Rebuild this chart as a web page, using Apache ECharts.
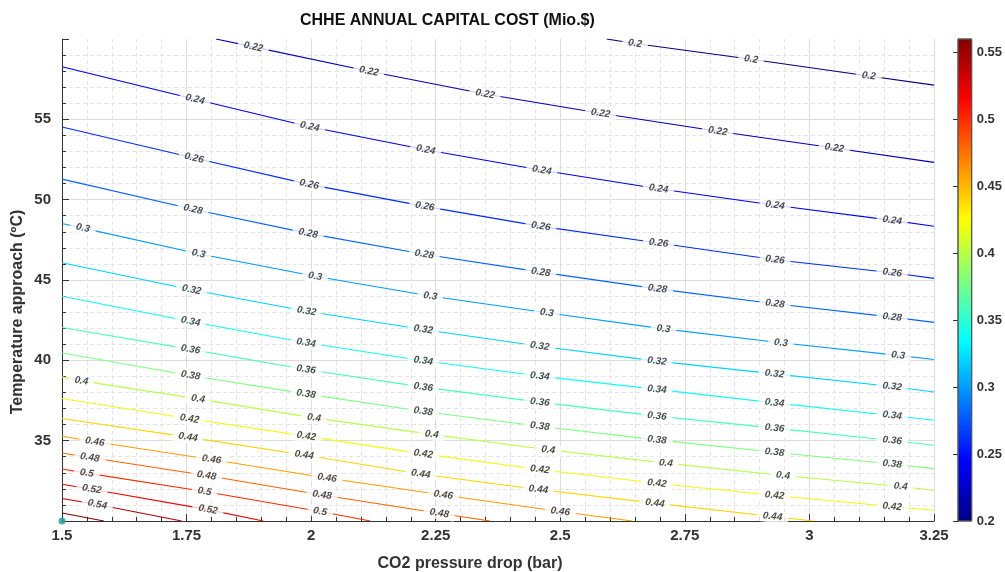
<!DOCTYPE html>
<html>
<head>
<meta charset="utf-8">
<script src="https://cdn.jsdelivr.net/npm/echarts@6/dist/echarts.min.js"></script>
<style>
  html, body { margin: 0; padding: 0; background: #fff; }
  #chart { width: 1005px; height: 572px; }
</style>
</head>
<body>
<div id="chart"></div>
<script>
// contour levels (Mio.$) and colour range of the colorbar
const levels = [0.2, 0.22, 0.24, 0.26, 0.28, 0.3, 0.32, 0.34, 0.36, 0.38, 0.4, 0.42, 0.44, 0.46, 0.48, 0.5, 0.52, 0.54, 0.56];
const cbarMin = 0.2;
const cbarMax = 0.56;

// each contour: [CO2 pressure drop (bar), temperature approach (C)]
// first/last point = where the line leaves the plot, inner points carry a label
const line020 = [[2.593, 60], [2.65, 59.72], [2.883, 58.74], [3.119, 57.70], [3.25, 57.13]];
const line022 = [[1.809, 60], [1.884, 59.51], [2.116, 57.99], [2.349, 56.58], [2.581, 55.38], [2.816, 54.26], [3.050, 53.22], [3.25, 52.32]];
const line024 = [[1.5, 58.27], [1.767, 56.25], [1.997, 54.54], [2.230, 53.11], [2.463, 51.83], [2.697, 50.68], [2.931, 49.65], [3.166, 48.71], [3.25, 48.35]];
const line026 = [[1.5, 54.52], [1.765, 52.59], [1.996, 50.95], [2.228, 49.58], [2.461, 48.34], [2.697, 47.30], [2.931, 46.26], [3.166, 45.45], [3.25, 45.10]];
const line028 = [[1.5, 51.28], [1.763, 49.40], [1.994, 47.90], [2.227, 46.60], [2.461, 45.49], [2.695, 44.45], [2.931, 43.52], [3.166, 42.69], [3.25, 42.36]];
const line030 = [[1.5, 48.52], [1.542, 48.23], [1.774, 46.63], [2.008, 45.23], [2.239, 44.00], [2.473, 42.96], [2.707, 41.96], [2.943, 41.09], [3.178, 40.31], [3.25, 40.05]];
const line032 = [[1.5, 46.07], [1.760, 44.39], [1.991, 43.06], [2.225, 41.92], [2.459, 40.88], [2.694, 39.95], [2.930, 39.16], [3.166, 38.37], [3.25, 38.03]];
const line034 = [[1.5, 43.99], [1.758, 42.42], [1.990, 41.09], [2.225, 39.97], [2.459, 39.02], [2.694, 38.19], [2.930, 37.35], [3.166, 36.57], [3.25, 36.27]];
const line036 = [[1.5, 42.04], [1.758, 40.68], [1.990, 39.43], [2.225, 38.33], [2.459, 37.40], [2.694, 36.53], [2.930, 35.78], [3.166, 35.01], [3.25, 34.71]];
const line038 = [[1.5, 40.46], [1.758, 39.06], [1.990, 37.91], [2.225, 36.82], [2.459, 35.90], [2.694, 35.05], [2.930, 34.28], [3.166, 33.55], [3.25, 33.26]];
const line040 = [[1.5, 38.97], [1.539, 38.72], [1.773, 37.60], [2.006, 36.42], [2.242, 35.39], [2.476, 34.43], [2.712, 33.60], [2.947, 32.83], [3.183, 32.15], [3.25, 31.91]];
const line042 = [[1.5, 37.62], [1.756, 36.36], [1.990, 35.28], [2.225, 34.18], [2.459, 33.21], [2.694, 32.35], [2.930, 31.59], [3.166, 30.90], [3.25, 30.67]];
const line044 = [[1.5, 36.38], [1.753, 35.22], [1.986, 34.11], [2.220, 32.93], [2.456, 31.96], [2.690, 31.11], [2.926, 30.28], [3.008, 30]];
const line046 = [[1.5, 35.27], [1.566, 34.93], [1.800, 33.83], [2.032, 32.68], [2.265, 31.62], [2.500, 30.59], [2.644, 30]];
const line048 = [[1.5, 34.23], [1.556, 33.95], [1.790, 32.83], [2.022, 31.62], [2.257, 30.48], [2.359, 30]];
const line050 = [[1.5, 33.24], [1.550, 32.98], [1.786, 31.84], [2.018, 30.59], [2.119, 30]];
const line052 = [[1.5, 32.29], [1.560, 31.98], [1.793, 30.71], [1.904, 30]];
const line054 = [[1.5, 31.40], [1.571, 31.03], [1.740, 30]];
const line056 = [[1.5, 30.50], [1.584, 30]];

const contourLines = [line020, line022, line024, line026, line028, line030, line032, line034, line036,
  line038, line040, line042, line044, line046, line048, line050, line052, line054, line056];

// the single marker in the corner
const markerPts = [[1.5, 30]];

// jet colormap
function clamp(v) { return Math.max(0, Math.min(1, v)); }
function jet(v) {
  const t = (v - cbarMin) / (cbarMax - cbarMin);
  const r = clamp(1.5 - Math.abs(4 * t - 3));
  const g = clamp(1.5 - Math.abs(4 * t - 2));
  const b = clamp(1.5 - Math.abs(4 * t - 1));
  return 'rgb(' + Math.round(r * 255) + ',' + Math.round(g * 255) + ',' + Math.round(b * 255) + ')';
}
const jetStops = [
  { offset: 0, color: '#000080' },
  { offset: 0.125, color: '#0000ff' },
  { offset: 0.375, color: '#00ffff' },
  { offset: 0.625, color: '#ffff00' },
  { offset: 0.875, color: '#ff0000' },
  { offset: 1, color: '#800000' }
];

const font = 'Liberation Sans, Arial, Helvetica, sans-serif';
const chart = echarts.init(document.getElementById('chart'));

const series = [];
levels.forEach(function (lv, i) {
  series.push({
    type: 'line',
    data: contourLines[i],
    symbol: 'none',
    showSymbol: false,
    silent: true,
    z: 2,
    lineStyle: { color: jet(lv), width: 1.1 }
  });
});
series.push({
  id: 'labels',
  type: 'scatter',
  data: [],
  symbolSize: 1,
  clip: false,
  silent: true,
  z: 5,
  itemStyle: { color: 'rgba(0,0,0,0)' },
  label: {
    show: true,
    position: 'inside',
    formatter: '{b}',
    fontFamily: font,
    fontSize: 10,
    fontWeight: 'bold',
    fontStyle: 'italic',
    color: '#1a1a1a',
    backgroundColor: '#fff',
    padding: [1, 6]
  }
});
series.push({
  type: 'scatter',
  data: markerPts,
  symbolSize: 7,
  clip: false,
  silent: true,
  z: 6,
  itemStyle: { color: '#1f9c9c' }
});
// colorbar
series.push({
  type: 'custom',
  xAxisIndex: 1,
  yAxisIndex: 1,
  silent: true,
  data: [[0, cbarMin, 1, cbarMax]],
  renderItem: function (params, api) {
    const p0 = api.coord([api.value(0), api.value(1)]);
    const p1 = api.coord([api.value(2), api.value(3)]);
    return {
      type: 'rect',
      shape: { x: p0[0], y: p1[1], width: p1[0] - p0[0], height: p0[1] - p1[1] },
      style: { fill: new echarts.graphic.LinearGradient(0, 1, 0, 0, jetStops), stroke: '#555', lineWidth: 1 }
    };
  }
});

chart.setOption({
  animation: false,
  backgroundColor: '#fff',
  textStyle: { fontFamily: font },
  title: {
    text: 'CHHE ANNUAL CAPITAL COST (Mio.$)',
    left: 300,
    top: 13,
    padding: 0,
    textStyle: { fontFamily: font, fontSize: 16, fontWeight: 'bold', color: '#111' }
  },
  grid: [
    { left: 62, right: 71, top: 39, bottom: 51 },
    { left: 958, width: 14, top: 39, bottom: 51 }
  ],
  xAxis: [{
    type: 'value',
    min: 1.5,
    max: 3.25,
    interval: 0.25,
    axisLine: { onZero: false, lineStyle: { color: '#333', width: 1 } },
    axisTick: { inside: true, length: 7, lineStyle: { color: '#333' } },
    minorTick: { show: true, splitNumber: 5, length: 4, lineStyle: { color: '#333' } },
    axisLabel: { color: '#333', fontSize: 15, fontWeight: 'bold', margin: 7 },
    splitLine: { show: true, lineStyle: { color: '#dcdcdc' } },
    minorSplitLine: { show: true, lineStyle: { color: '#e4e4e4', type: [4, 3] } }
  }, {
    gridIndex: 1, type: 'value', min: 0, max: 1, show: false
  }],
  yAxis: [{
    type: 'value',
    min: 30,
    max: 60,
    interval: 5,
    axisLine: { show: true, onZero: false, lineStyle: { color: '#333', width: 1 } },
    axisTick: { show: true, inside: true, length: 7, lineStyle: { color: '#333' } },
    minorTick: { show: true, splitNumber: 5, length: 4, lineStyle: { color: '#333' } },
    axisLabel: { color: '#333', fontSize: 15, fontWeight: 'bold', margin: 11, showMinLabel: false, showMaxLabel: false },
    splitLine: { show: true, showMaxLine: false, lineStyle: { color: '#dcdcdc' } },
    minorSplitLine: { show: true, lineStyle: { color: '#e4e4e4', type: [4, 3] } }
  }, {
    gridIndex: 1,
    type: 'value',
    min: cbarMin,
    max: cbarMax,
    interval: 0.05,
    position: 'right',
    axisLine: { show: true, lineStyle: { color: '#555' } },
    axisTick: { show: true, inside: true, length: 5, lineStyle: { color: '#333' } },
    axisLabel: { color: '#333', fontSize: 13, fontWeight: 'bold', margin: 5, showMaxLabel: false },
    splitLine: { show: false }
  }],
  graphic: [{
    type: 'text',
    x: 470,
    y: 564,
    style: { text: 'CO2 pressure drop (bar)', fill: '#333', font: 'bold 16px ' + font, textAlign: 'center', textVerticalAlign: 'middle' }
  }, {
    type: 'text',
    x: 18,
    y: 312,
    rotation: Math.PI / 2,
    style: { text: 'Temperature approach (ºC)', fill: '#333', font: 'bold 16px ' + font, textAlign: 'center', textVerticalAlign: 'middle' }
  }],
  series: series
});

// labels sit on the inner points of each contour, turned along the line
const labelData = [];
contourLines.forEach(function (pts, i) {
  for (let k = 1; k < pts.length - 1; k++) {
    const a = chart.convertToPixel({ xAxisIndex: 0, yAxisIndex: 0 }, pts[k - 1]);
    const b = chart.convertToPixel({ xAxisIndex: 0, yAxisIndex: 0 }, pts[k + 1]);
    const ang = Math.atan2(b[1] - a[1], b[0] - a[0]) * 180 / Math.PI;
    labelData.push({ name: String(levels[i]), value: pts[k], label: { rotate: -ang } });
  }
});
chart.setOption({ series: [{ id: 'labels', data: labelData }] });
</script>
</body>
</html>
